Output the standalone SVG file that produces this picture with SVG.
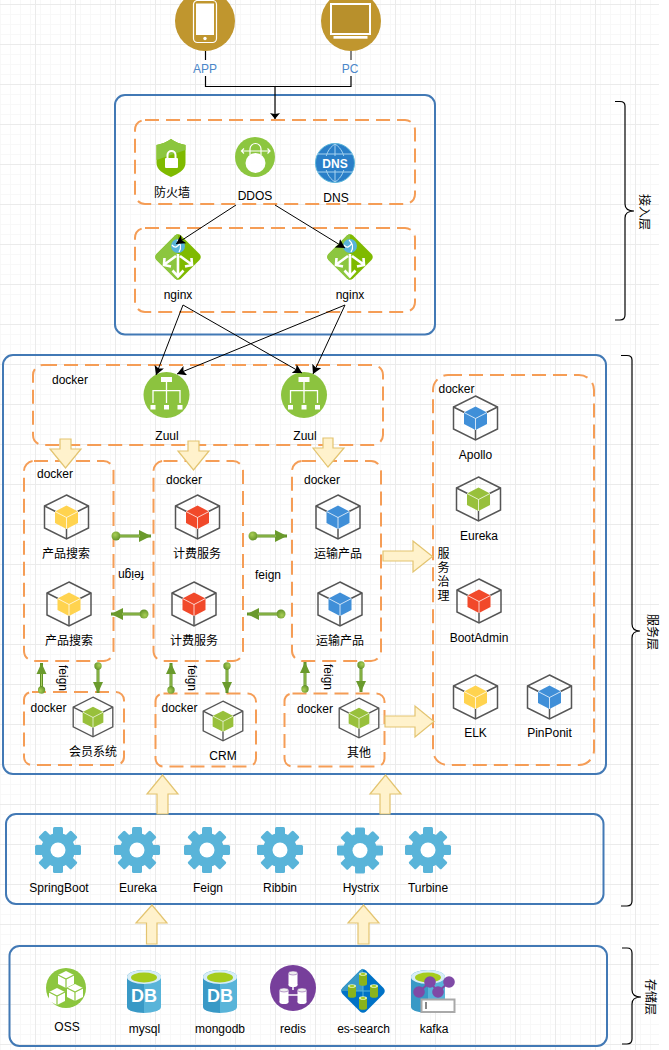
<svg xmlns="http://www.w3.org/2000/svg" width="669" height="1050" viewBox="0 0 669 1050">
<style>
text{font-family:"Liberation Sans","Noto Sans CJK SC",sans-serif;font-size:12px;fill:#000;text-anchor:middle}
.s{text-anchor:start}
.box{fill:none;stroke:#4279b5;stroke-width:2}
.dash{fill:none;stroke:#f59d56;stroke-width:2;stroke-dasharray:14 7}
.ya{fill:#fff2cc;stroke:#e3c470;stroke-width:1.2}
.bl{fill:none;stroke:#000;stroke-width:1;marker-end:url(#ah)}
.br{fill:none;stroke:#000;stroke-width:1.2}
.ga{fill:none;stroke:#5f8f26;stroke-width:3;marker-start:url(#ball);marker-end:url(#gh)}
.gv{fill:none;stroke:#5f8f26;stroke-width:3;marker-start:url(#ball2);marker-end:url(#gh2)}
.gi{fill:none;stroke:#a9d05f;stroke-width:1}
.y{fill:#ffd34f}.r{fill:#f1492a}.b{fill:#408fd8}.g{fill:#98c03b}
.gear{fill:#59b4d9}
.dbl{fill:#fff;font-weight:bold;font-size:18px}
</style>
<defs>
<pattern id="grid" patternUnits="userSpaceOnUse" x="35" y="4" width="40" height="40">
<path d="M5.500 0V40M15.500 0V40M25.500 0V40M35.500 0V40M0 10.500H40M0 20.500H40M0 30.500H40" stroke="#f8f8f8" stroke-width="1" fill="none"/>
<path d="M.5 0V40M0 .5H40" stroke="#ebebeb" stroke-width="1" fill="none"/>
</pattern>
<marker id="ah" markerUnits="userSpaceOnUse" markerWidth="12" markerHeight="10" refX="9" refY="5" orient="auto"><path d="M0 0L9 5L0 10L2 5Z" fill="#000"/></marker>
<marker id="gh" markerUnits="userSpaceOnUse" markerWidth="13" markerHeight="14" refX="12" refY="6.500" orient="auto"><path d="M0 .5L12 6.500L0 12.500Z" fill="#6a9a2c"/></marker>
<marker id="gh2" markerUnits="userSpaceOnUse" markerWidth="12" markerHeight="11" refX="11" refY="5.500" orient="auto"><path d="M0 .5L11 5.500L0 10.500Z" fill="#6a9a2c"/></marker>
<marker id="ball" markerUnits="userSpaceOnUse" markerWidth="10" markerHeight="10" refX="5" refY="5" orient="auto"><circle cx="5" cy="5" r="4.500" fill="url(#bg)"/></marker>
<marker id="ball2" markerUnits="userSpaceOnUse" markerWidth="8" markerHeight="8" refX="4" refY="4" orient="auto"><circle cx="4" cy="4" r="3.700" fill="url(#bg)"/></marker>
<radialGradient id="bg" cx=".4" cy=".35" r=".7"><stop offset="0" stop-color="#a9cf55"/><stop offset="1" stop-color="#5f8f26"/></radialGradient>
<g id="cube">
<polygon points="0,-22 22,-11 22,11 0,22 -22,11 -22,-11" fill="none" stroke="#555" stroke-width="1.500"/>
<path d="M-22 -11L-11 -5.500M22 -11L11 -5.500M0 22V11" fill="none" stroke="#555" stroke-width="1.500"/>
<polygon points="0,-11.500 11.500,-5.500 11.500,6 0,12 -11.500,6 -11.500,-5.500"/>
<path d="M-11.500 -5.500L0 0.500L11.500 -5.500M0 .5V12" fill="none" stroke="#fff" stroke-opacity=".75" stroke-width="1"/>
</g>
<g id="gearI" class="gear">
<circle r="17"/>
<g id="t2"><rect x="-5" y="-23" width="10" height="46" rx="1.500"/><rect x="-5" y="-23" width="10" height="46" rx="1.500" transform="rotate(90)"/></g>
<use href="#t2" transform="rotate(45)"/>
<circle r="7.500" fill="#fff"/>
</g>
<g id="cyl">
<path d="M-17 0V30A17 6 0 0 0 0 36V-7A17 7 0 0 0 -17 0Z" fill="#3999c6"/>
<path d="M17 0V30A17 6 0 0 1 0 36V-7A17 7 0 0 1 17 0Z" fill="#59b4d9"/>
<ellipse rx="17" ry="7" fill="#d7edf7"/>
<ellipse cy=".5" rx="13" ry="5" fill="#a5cc1e"/>
</g>
<g id="rc"><rect x="-4.500" y="-6" width="9" height="12" fill="#fff"/><ellipse cy="-6" rx="4.500" ry="2" fill="#eee" stroke="#773f9b" stroke-width=".5"/><ellipse cy="6" rx="4.500" ry="2" fill="#fff"/></g>
<g id="ec"><rect x="-4" y="-5" width="8" height="10" fill="#8ab31c"/><ellipse cy="5" rx="4" ry="1.800" fill="#8ab31c"/><ellipse cy="-5" rx="4" ry="1.800" fill="#e8f3c0"/><ellipse cy="-5" rx="2.500" ry="1" fill="#a5cc1e"/></g>
<g id="oc"><polygon points="0,-9 8,-5 8,4 0,8 -8,4 -8,-5" fill="#fff"/><path d="M-8 -5L0 -1L8 -5M0 -1V8" fill="none" stroke="#8cc63f" stroke-width="1.200"/></g>
<g id="ng">
<path d="M-3 -21.500Q0 -24 3 -21.500L21.500 -3Q24 0 21.500 3L3 21.500Q0 24 -3 21.500L-21.500 3Q-24 0 -21.500 -3Z" fill="#7fba00"/>
<path d="M-3 -21.500Q-1.500 -22.700 0 -22.700V22.700Q-1.500 22.700 -3 21.500L-21.500 3Q-24 0 -21.500 -3Z" fill="#8cc63f"/>
<path d="M0 -3V19M-5.500 13.500L0 19.500L5.500 13.500M-2 -1L-13 7M-13.500 1L-14 8L-7 9.500M2 -1L13 7M13.500 1L14 8L7 9.500" fill="none" stroke="#fff" stroke-width="2.600"/>
<circle cy="-11" r="7" fill="#59b4d9"/>
<path d="M-6 -12Q-2 -7 2 -14M-1 -17Q5 -12 1 -5" fill="none" stroke="#fff" stroke-width="1.300"/>
</g>
</defs>
<rect id="background" width="669" height="1050" fill="#fff"/>
<rect id="gridlines" width="659" height="1050" fill="url(#grid)"/>

<g id="layer-access"><rect class="box" x="115" y="95" width="320" height="239.500" rx="10"/></g>
<g id="layer-service"><rect class="box" x="3" y="355" width="603" height="419" rx="10"/></g>
<g id="layer-framework"><rect class="box" x="6" y="814" width="597.500" height="90" rx="10"/></g>
<g id="layer-storage"><rect class="box" x="9.500" y="946" width="597.500" height="100" rx="10"/></g>

<g id="group-edge"><rect class="dash" x="135" y="120" width="280" height="84" rx="10"/></g>
<g id="group-nginx"><rect class="dash" x="135" y="228" width="280" height="84" rx="10"/></g>
<g id="group-zuul"><rect class="dash" x="33" y="365" width="350" height="80" rx="10"/><text class="s" x="52" y="384">docker</text></g>
<g id="group-search"><rect class="dash" x="24" y="461" width="89.500" height="200" rx="10"/><text class="s" x="37" y="478">docker</text></g>
<g id="group-billing"><rect class="dash" x="153.500" y="461" width="89.500" height="200" rx="10"/><text class="s" x="166" y="484">docker</text></g>
<g id="group-transport"><rect class="dash" x="292" y="461" width="89" height="200" rx="10"/><text class="s" x="304" y="484">docker</text></g>
<g id="group-member"><rect class="dash" x="24" y="692" width="100" height="73" rx="8"/><text class="s" x="30.500" y="712">docker</text></g>
<g id="group-crm"><rect class="dash" x="155.500" y="693.500" width="100.500" height="73" rx="8"/><text class="s" x="161.500" y="712">docker</text></g>
<g id="group-other"><rect class="dash" x="284.500" y="693.500" width="100" height="73" rx="8"/><text class="s" x="297" y="713">docker</text></g>
<g id="group-governance"><rect class="dash" x="433" y="375" width="161" height="390" rx="15"/><text class="s" x="438.500" y="393">docker</text>
<text x="443.500" y="558">服<tspan x="443.500" dy="14">务</tspan><tspan x="443.500" dy="14">治</tspan><tspan x="443.500" dy="14">理</tspan></text></g>

<g id="node-app"><circle cx="205" cy="21" r="30" fill="#c0962e"/>
<rect x="193.500" y=".5" width="23" height="42" rx="4" fill="none" stroke="#fff" stroke-width="1.200"/><rect x="196" y="3.500" width="18" height="31.500" fill="#fff"/><circle cx="205" cy="38.500" r="1.700" fill="#fff"/>
<text x="205" y="73" style="fill:#4a86c8">APP</text></g>
<g id="node-pc"><circle cx="351" cy="21" r="30" fill="#c0962e"/>
<rect x="331" y="4" width="39" height="30" fill="#b8902c" stroke="#fff" stroke-width="2"/><rect x="333.500" y="36" width="34" height="2.700" fill="#fff"/>
<text x="350" y="73" style="fill:#4a86c8">PC</text></g>

<g id="node-firewall"><path d="M171 139C175 142 180 144 185.500 145V163C185.500 170 178 174 171 177C164 174 156.500 170 156.500 163V145C162 144 167 142 171 139Z" fill="#7fba00"/><path d="M171 139C175 142 180 144 185.500 145V150L156.500 160V145C162 144 167 142 171 139Z" fill="#8cc63f"/>
<rect x="165" y="158" width="13" height="10" rx="1" fill="#fff"/><path d="M167.500 158V155A4 4 0 0 1 175.500 155V158" fill="none" stroke="#fff" stroke-width="2"/>
<text x="172" y="197">防火墙</text></g>
<g id="node-ddos"><circle cx="255" cy="157" r="20" fill="#8cc63f"/><circle cx="255.500" cy="163" r="10" fill="#fff"/>
<path d="M250 155V149A5.500 5.500 0 0 1 261 149V155M241.500 151H270M244 148.500L241.500 151L244 153.500M267.500 148.500L270 151L267.500 153.500" fill="none" stroke="#fff" stroke-width="1.200"/>
<text x="255" y="200">DDOS</text></g>
<g id="node-dns"><circle cx="335" cy="163" r="19.500" fill="#2a7fc8" stroke="#59b4d9" stroke-width="1"/>
<path d="M335 144V182M317 154H353M317 172H353M335 144C322 152 322 174 335 182M335 144C348 152 348 174 335 182" fill="none" stroke="#a6d3ef" stroke-width="1"/>
<rect x="319" y="156" width="32" height="14" fill="#2a7fc8"/>
<text x="335" y="167.500" style="fill:#fff;font-weight:bold;font-size:12px">DNS</text>
<text x="336" y="202">DNS</text></g>
<g id="node-nginx1"><use href="#ng" x="178" y="257"/><text x="178" y="299">nginx</text></g>
<g id="node-nginx2"><use href="#ng" x="350" y="257"/><text x="350" y="299">nginx</text></g>

<g id="node-zuul1"><circle cx="166.500" cy="395" r="23" fill="#8cc33f"/><g transform="translate(166.500 395)"><path d="M-5.500 -18H5.500V-13H-5.500ZM-2.500 10H2.500V14.500H-2.500ZM-16 10H-11V14.500H-16ZM11 10H16V14.500H11Z" fill="#fff"/><path d="M0 -13V8M-13.500 8V-4.300H13.500V8" fill="none" stroke="#fff" stroke-width="1.300"/></g><text x="167" y="440">Zuul</text></g>
<g id="node-zuul2"><circle cx="304" cy="395" r="23" fill="#8cc33f"/><g transform="translate(304 395)"><path d="M-5.500 -18H5.500V-13H-5.500ZM-2.500 10H2.500V14.500H-2.500ZM-16 10H-11V14.500H-16ZM11 10H16V14.500H11Z" fill="#fff"/><path d="M0 -13V8M-13.500 8V-4.300H13.500V8" fill="none" stroke="#fff" stroke-width="1.300"/></g><text x="305" y="440">Zuul</text></g>

<g id="node-search1"><use href="#cube" class="y" x="66.500" y="517"/><text x="66" y="558">产品搜索</text></g>
<g id="node-search2"><use href="#cube" class="y" x="69" y="604"/><text x="69" y="645">产品搜索</text></g>
<g id="node-billing1"><use href="#cube" class="r" x="197.500" y="517"/><text x="197" y="558">计费服务</text></g>
<g id="node-billing2"><use href="#cube" class="r" x="194" y="604"/><text x="194" y="645">计费服务</text></g>
<g id="node-transport1"><use href="#cube" class="b" x="338" y="517"/><text x="338" y="558">运输产品</text></g>
<g id="node-transport2"><use href="#cube" class="b" x="340" y="604"/><text x="340" y="645">运输产品</text></g>
<g id="node-member"><use href="#cube" class="g" transform="translate(93 717) scale(.9)"/><text x="93" y="756">会员系统</text></g>
<g id="node-crm"><use href="#cube" class="g" transform="translate(223 721) scale(.9)"/><text x="223" y="760">CRM</text></g>
<g id="node-other"><use href="#cube" class="g" transform="translate(359 718) scale(.9)"/><text x="359" y="757">其他</text></g>

<g id="node-apollo"><use href="#cube" class="b" x="475.500" y="418"/><text x="475.500" y="459">Apollo</text></g>
<g id="node-eureka-s"><use href="#cube" class="g" x="478.500" y="499"/><text x="479" y="540">Eureka</text></g>
<g id="node-bootadmin"><use href="#cube" class="r" x="479" y="601"/><text x="479" y="642">BootAdmin</text></g>
<g id="node-elk"><use href="#cube" class="y" x="475.500" y="697"/><text x="475.500" y="737">ELK</text></g>
<g id="node-pinponit"><use href="#cube" class="b" x="549.500" y="697"/><text x="549.500" y="737">PinPonit</text></g>

<g id="node-springboot"><use href="#gearI" x="58" y="850"/><text x="59" y="892">SpringBoot</text></g>
<g id="node-eureka"><use href="#gearI" x="137" y="850"/><text x="138" y="892">Eureka</text></g>
<g id="node-feign"><use href="#gearI" x="207" y="850"/><text x="208" y="892">Feign</text></g>
<g id="node-ribbin"><use href="#gearI" x="280" y="850"/><text x="280" y="892">Ribbin</text></g>
<g id="node-hystrix"><use href="#gearI" x="360" y="850.500"/><text x="361" y="892">Hystrix</text></g>
<g id="node-turbine"><use href="#gearI" x="428" y="850"/><text x="428" y="892">Turbine</text></g>

<g id="node-oss"><ellipse cx="66" cy="988" rx="20" ry="20" fill="#8cc63f"/><use href="#oc" x="66" y="980"/><use href="#oc" x="57" y="997"/><use href="#oc" x="75" y="993"/><text x="67" y="1031">OSS</text></g>
<g id="node-mysql"><use href="#cyl" x="144" y="977"/><text class="dbl" x="144" y="1002" style="font-size:18px;fill:#fff">DB</text><text x="144.500" y="1033">mysql</text></g>
<g id="node-mongodb"><use href="#cyl" x="220" y="977"/><text class="dbl" x="220" y="1002" style="font-size:18px;fill:#fff">DB</text><text x="220" y="1033">mongodb</text></g>
<g id="node-redis"><circle cx="293" cy="988" r="23" fill="#773f9b"/><path d="M293 985V990M284 995H302" stroke="#fff" stroke-width="1.500"/><use href="#rc" x="293" y="979"/><use href="#rc" x="284" y="996"/><use href="#rc" x="302" y="996"/><text x="293" y="1033">redis</text></g>
<g id="node-es"><path d="M360 970.500Q363 968 366 970.500L383.500 988Q386 991 383.500 994L366 1011.500Q363 1014 360 1011.500L342.500 994Q340 991 342.500 988Z" fill="#0072c6"/><path d="M360 970.500Q363 968 363 969V991H341Q340.500 990.500 342.500 988Z" fill="#3999c6"/><path d="M363 979V1003M352 991H374" stroke="#59b4d9" stroke-width="1"/><use href="#ec" x="363" y="979"/><use href="#ec" x="352" y="991"/><use href="#ec" x="374" y="991"/><use href="#ec" x="363" y="1003"/><text x="363.500" y="1033">es-search</text></g>
<g id="node-kafka"><use href="#cyl" x="428" y="977"/><path d="M419 992L430 982L438 992L449 982" fill="none" stroke="#7f4aa6" stroke-width="2"/><circle cx="419" cy="992" r="5.800" fill="#7f4aa6"/><circle cx="430" cy="982" r="5.800" fill="#7f4aa6"/><circle cx="438" cy="992" r="5.800" fill="#7f4aa6"/><circle cx="449" cy="982" r="5.800" fill="#7f4aa6"/>
<rect x="421.500" y="999.500" width="33" height="12.500" fill="#fff" stroke="#a9a9a9" stroke-width="2"/><rect x="425" y="1002" width="2" height="7" fill="#888"/><text x="434" y="1033">kafka</text></g>

<g id="bracket-access"><path class="br" d="M615 101.500H620Q625 101.500 625 106V204Q625 211 634 211Q625 211 625 218V315Q625 320 620 320H615"/><text transform="translate(640 212) rotate(90)">接入层</text></g>
<g id="bracket-service"><path class="br" d="M621 355.500H627Q632 355.500 632 360V624Q632 631 640 631Q632 631 632 638V901Q632 906 627 906H621"/><text transform="translate(648 632) rotate(90)">服务层</text></g>
<g id="bracket-storage"><path class="br" d="M622 948H627Q632 948 632 953V990Q632 997 641 997Q632 997 632 1004V1039Q632 1044 627 1044H622"/><text transform="translate(646 997) rotate(90)">存储层</text></g>

<g id="connectors">
<path d="M205.500 51V60M205.500 76V86.500H351V76M275 86.500V119" fill="none" stroke="#000" stroke-width="1.200"/>
<path d="M351 51V60" stroke="#777" stroke-width="1.800"/>
<polygon points="275,119 270,113 272,113.500 275,114 278,113.500 280,113"/>
<path class="bl" d="M236 205L176 244"/>
<path class="bl" d="M275 205L345 248"/>
<path class="bl" d="M183 305L156 375"/>
<path class="bl" d="M183 305L302 373"/>
<path class="bl" d="M345 305L177 374"/>
<path class="bl" d="M345 305L313 374"/>

<polygon class="ya" points="60,439 71,439 71,449 81,449 65.500,468 50,449 60,449"/>
<polygon class="ya" points="188,441 199,441 199,451 209,451 193.500,470 178,451 188,451"/>
<polygon class="ya" points="323,438 333,438 333,448 344,448 328,467 313,448 323,448"/>
<polygon class="ya" points="383,551 413,551 413,541 432.500,556.500 413,572 413,561 383,561"/>
<polygon class="ya" points="385,716 415,716 415,706 434,721.500 415,737 415,727 385,727"/>
<polygon class="ya" points="157,814 157,794 147,794 162.500,775 178,794 168,794 168,814"/>
<polygon class="ya" points="380,814 380,794 370,794 385.500,775 401,794 390,794 390,814"/>
<polygon class="ya" points="146.500,944 146.500,923 136,923 152,905 167,923 157,923 157,944"/>
<polygon class="ya" points="358,944 358,923 348,923 363.500,905 379,923 369,923 369,944"/>

<path class="ga" d="M116 536H151"/><path class="gi" d="M120 536H140"/>
<path class="ga" d="M144 614H111"/><path class="gi" d="M140 614H122"/>
<path class="ga" d="M253 536H287"/><path class="gi" d="M257 536H276"/>
<path class="ga" d="M281 614H247"/><path class="gi" d="M277 614H258"/>
<path class="gv" d="M41.500 690V663"/><path class="gi" d="M41.500 686V674"/>
<path class="gv" d="M98 666V693"/><path class="gi" d="M98 670V682"/>
<path class="gv" d="M171 690V663"/><path class="gi" d="M171 686V674"/>
<path class="gv" d="M227 666V693"/><path class="gi" d="M227 670V682"/>
<path class="gv" d="M305 689V662"/><path class="gi" d="M305 685V673"/>
<path class="gv" d="M361 665V692"/><path class="gi" d="M361 669V681"/>
<text transform="translate(131 575) rotate(180)" dy="4">feign</text>
<text x="268" y="579">feign</text>
<text transform="translate(63 678) rotate(90)" dy="4">feign</text>
<text transform="translate(192 678) rotate(90)" dy="4">feign</text>
<text transform="translate(328 677) rotate(90)" dy="4">feign</text>
</g>
</svg>
